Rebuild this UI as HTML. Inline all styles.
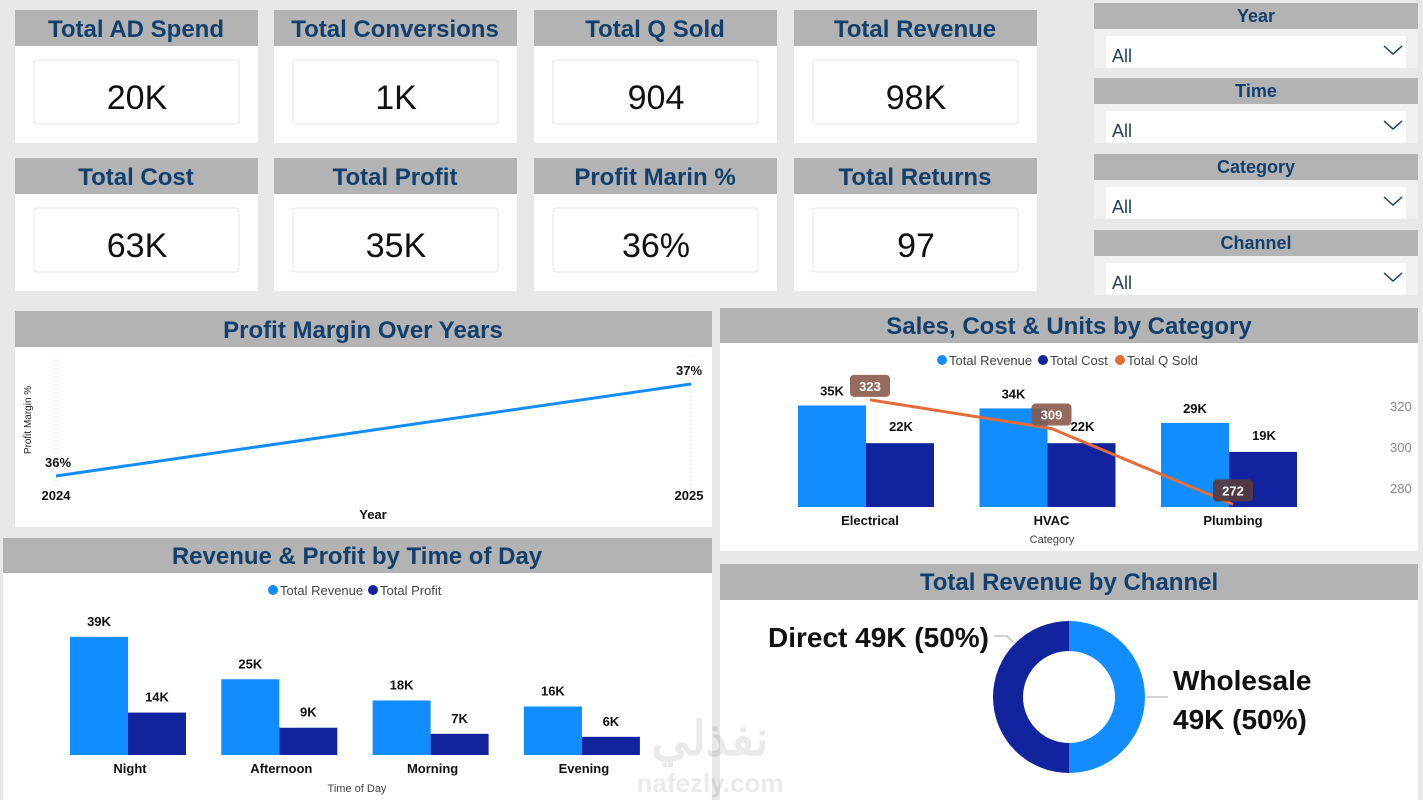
<!DOCTYPE html>
<html><head><meta charset="utf-8">
<style>
html,body{margin:0;padding:0;background:#e8e8e8;}
svg{display:block;font-family:"Liberation Sans",sans-serif;}
.hdr{fill:#b3b3b3}
.ttl{fill:#12406e;font-weight:bold;text-anchor:middle}
.lbl{font-weight:bold;fill:#111;text-anchor:middle;font-size:13px}
</style></head><body>
<svg id="dash" width="1423" height="800" viewBox="0 0 1423 800">
<rect width="1423" height="800" fill="#e8e8e8"/>
<g id="cards"></g>
<g id="slicers"></g>

<!-- Profit margin panel -->
<g>
<rect x="15" y="311" width="697" height="216" fill="#fff"/>
<rect class="hdr" x="15" y="311" width="697" height="36"/>
<text class="ttl" x="363" y="338" font-size="24">Profit Margin Over Years</text>
<g id="pm"></g>
</g>

<!-- Sales cost panel -->
<g>
<rect x="720" y="308" width="698" height="243" fill="#fff"/>
<rect class="hdr" x="720" y="308" width="698" height="35"/>
<text class="ttl" x="1069" y="334" font-size="24">Sales, Cost &amp; Units by Category</text>
<g id="sc"></g>
</g>

<!-- Time of day panel -->
<g>
<rect x="3" y="538" width="709" height="262" fill="#fff"/>
<rect class="hdr" x="3" y="538" width="709" height="35"/>
<text class="ttl" x="357" y="564" font-size="24">Revenue &amp; Profit by Time of Day</text>
<g id="td"></g>
</g>

<!-- Channel panel -->
<g>
<rect x="720" y="564" width="698" height="236" fill="#fff"/>
<rect class="hdr" x="720" y="564" width="698" height="36"/>
<text class="ttl" x="1069" y="590" font-size="24">Total Revenue by Channel</text>
<g id="ch"></g>
</g>

<g fill="#000" opacity="0.08" font-weight="bold">
<text x="710" y="755" font-size="48" text-anchor="middle" font-family="'Noto Sans CJK SC',sans-serif">نفذلي</text>
<text x="710" y="792" font-size="26" text-anchor="middle">nafezly.com</text>
</g>
</svg>
<script>
const NS="http://www.w3.org/2000/svg";
function mk(p,t,a,txt){const e=document.createElementNS(NS,t);for(const k in a)e.setAttribute(k,a[k]);if(txt!==undefined)e.textContent=txt;p.appendChild(e);return e;}

// KPI cards
const kpiTitles=["Total AD Spend","Total Conversions","Total Q Sold","Total Revenue","Total Cost","Total Profit","Profit Marin %","Total Returns"];
const kpiValues=["20K","1K","904","98K","63K","35K","36%","97"];
const cards=document.getElementById('cards');
kpiTitles.forEach((t,i)=>{
  const x=[15,274,534,794][i%4], y=i<4?10:158;
  const g=mk(cards,'g',{});
  
  
  mk(g,'rect',{x:x,y:y,width:243,height:133,fill:'#fff'});
  mk(g,'rect',{x:x,y:y,width:243,height:36,class:'hdr'});
  mk(g,'text',{x:x+121,y:y+27,class:'ttl','font-size':24},t);
  mk(g,'rect',{x:x+19,y:y+50,width:205,height:64,fill:'#fff',stroke:'#e4e4e4',rx:3});
  mk(g,'text',{x:x+122,y:y+99,'font-size':34,'text-anchor':'middle',fill:'#111'},kpiValues[i]);
});

// Slicers
const slicerNames=["Year","Time","Category","Channel"];
const sl=document.getElementById('slicers');
slicerNames.forEach((n,i)=>{
  const y=[3,78,154,230][i];
  const g=mk(sl,'g',{});
  
  
  mk(g,'rect',{x:1094,y:y,width:324,height:26,class:'hdr'});
  mk(g,'text',{x:1256,y:y+19,class:'ttl','font-size':18},n);
  mk(g,'rect',{x:1094,y:y+26,width:324,height:39,fill:'#f0f0f0'});
  mk(g,'rect',{x:1106,y:y+33,width:300,height:32,fill:'#fff'});
  mk(g,'text',{x:1112,y:y+59,'font-size':18,fill:'#1d3f66'},'All');
  mk(g,'path',{d:`M1384 ${y+43} l9 8 l9 -8`,fill:'none',stroke:'#1d3f66','stroke-width':1.5});
});

// Profit margin line
const pmYears=["2024","2025"];
const pmValues=[36,37];
const pm=document.getElementById('pm');
const pmX=i=>56+i*635, pmY=v=>476-(v-36)*92;
mk(pm,'line',{x1:56,y1:356,x2:56,y2:486,stroke:'#ddd','stroke-dasharray':'1 3'});
mk(pm,'line',{x1:691,y1:356,x2:691,y2:486,stroke:'#ddd','stroke-dasharray':'1 3'});
const pl=mk(pm,'polyline',{points:pmValues.map((v,i)=>pmX(i)+','+pmY(v)).join(' '),fill:'none',stroke:'#118dff','stroke-width':3});


pmValues.forEach((v,i)=>{
  const t=mk(pm,'text',{x:pmX(i)+(i?-2:2),y:pmY(v)-9,class:'lbl'},v+'%');
  
  
  mk(pm,'text',{x:pmX(i)+(i?-2:0),y:500,class:'lbl','font-size':12},pmYears[i]);
});
mk(pm,'text',{x:373,y:519,class:'lbl','font-size':11},'Year');
mk(pm,'text',{x:31,y:420,'font-size':10,fill:'#222','text-anchor':'middle',transform:'rotate(-90 31 420)'},'Profit Margin %');

// Sales, cost & units
const catNames=["Electrical","HVAC","Plumbing"];
const catRevenue=[35,34,29];
const catCost=[22,22,19];
const catQty=[323,309,272];
const sc=document.getElementById('sc');
const scBase=507, scY=v=>scBase-v*2.9, scX=i=>798+i*181.5;
const qY=v=>447-(v-300)*2.05;
// legend
[["Total Revenue","#118dff",936],["Total Cost","#12239e",1037],["Total Q Sold","#e66c37",1114]].forEach(l=>{
  mk(sc,'circle',{cx:l[2]+6,cy:360,r:5,fill:l[1]});
  mk(sc,'text',{x:l[2]+13,y:365,'font-size':13,fill:'#444'},l[0]);
});
[[320,406],[300,447],[280,487]].forEach(t=>mk(sc,'text',{x:1390,y:qY(t[0])+5,'font-size':13,fill:'#888'},t[0]));
catNames.forEach((c,i)=>{
  const x=scX(i);
  const r=mk(sc,'rect',{x:x,y:scY(catRevenue[i]),width:68,height:catRevenue[i]*2.9,fill:'#118dff'});
  
  
  const b=mk(sc,'rect',{x:x+68,y:scY(catCost[i]),width:68,height:catCost[i]*2.9,fill:'#12239e'});
  
  
  mk(sc,'text',{x:x+34,y:scY(catRevenue[i])-10,class:'lbl'},catRevenue[i]+'K');
  mk(sc,'text',{x:x+103,y:scY(catCost[i])-12,class:'lbl'},catCost[i]+'K');
  mk(sc,'text',{x:x+72,y:525,class:'lbl','font-size':13},c);
});
mk(sc,'text',{x:1052,y:543,'text-anchor':'middle','font-size':11,fill:'#444'},'Category');
const ql=mk(sc,'polyline',{points:catQty.map((v,i)=>(scX(i)+72)+','+qY(v)).join(' '),fill:'none',stroke:'#e66c37','stroke-width':3});


catQty.forEach((v,i)=>{
  const x=scX(i)+72, y=qY(v)-14;
  mk(sc,'rect',{x:x-20,y:y-11,width:40,height:22,rx:4,fill:i==2?'#5a3a3a':'#8b5a4a',opacity:0.9});
  mk(sc,'text',{x:x,y:y+5,class:'lbl',fill:'#fff',style:'fill:#fff'},v);
});

// Time of day
const todNames=["Night","Afternoon","Morning","Evening"];
const todRevenue=[39,25,18,16];
const todProfit=[14,9,7,6];
const td=document.getElementById('td');
const tdBase=755, tdY=v=>tdBase-v*3.03, tdX=i=>70+i*151.3;
mk(td,'circle',{cx:273,cy:590,r:5,fill:'#118dff'});
mk(td,'text',{x:280,y:595,'font-size':13,fill:'#444'},'Total Revenue');
mk(td,'circle',{cx:373,cy:590,r:5,fill:'#12239e'});
mk(td,'text',{x:380,y:595,'font-size':13,fill:'#444'},'Total Profit');
todNames.forEach((c,i)=>{
  const x=tdX(i);
  const r=mk(td,'rect',{x:x,y:tdY(todRevenue[i]),width:58,height:todRevenue[i]*3.03,fill:'#118dff'});
  
  
  const b=mk(td,'rect',{x:x+58,y:tdY(todProfit[i]),width:58,height:todProfit[i]*3.03,fill:'#12239e'});
  
  
  mk(td,'text',{x:x+29,y:tdY(todRevenue[i])-11,class:'lbl'},todRevenue[i]+'K');
  mk(td,'text',{x:x+87,y:tdY(todProfit[i])-11,class:'lbl'},todProfit[i]+'K');
  mk(td,'text',{x:x+60,y:773,class:'lbl'},c);
});
mk(td,'text',{x:357,y:792,'text-anchor':'middle','font-size':11,fill:'#444'},'Time of Day');

// Channel donut
const chNames=["Wholesale","Direct"];
const chValues=[49,49];
const chColors=["#118dff","#12239e"];
const ch=document.getElementById('ch');
const cx=1069, cy=697, R=76, r0=46;
const tot=chValues.reduce((a,b)=>a+b,0);
let a0=-Math.PI/2;
chValues.forEach((v,i)=>{
  const a1=a0+v/tot*2*Math.PI, lg=(a1-a0)>Math.PI?1:0;
  const p=(rr,a)=>(cx+rr*Math.cos(a)).toFixed(2)+' '+(cy+rr*Math.sin(a)).toFixed(2);
  const s=mk(ch,'path',{d:`M${p(R,a0)} A${R} ${R} 0 ${lg} 1 ${p(R,a1)} L${p(r0,a1)} A${r0} ${r0} 0 ${lg} 0 ${p(r0,a0)} Z`,fill:chColors[i]});
  
  
  a0=a1;
});
mk(ch,'path',{d:'M1146 697 H1168',stroke:'#aaa',fill:'none'});
mk(ch,'path',{d:'M994 636 H1007 L1014 643',stroke:'#aaa',fill:'none'});
mk(ch,'text',{x:1173,y:690,'font-size':28,'font-weight':'bold',fill:'#111'},chNames[0]);
mk(ch,'text',{x:1173,y:729,'font-size':28,'font-weight':'bold',fill:'#111'},chValues[0]+'K ('+Math.round(chValues[0]/tot*100)+'%)');
mk(ch,'text',{x:989,y:647,'font-size':28,'font-weight':'bold',fill:'#111','text-anchor':'end'},chNames[1]+' '+chValues[1]+'K ('+Math.round(chValues[1]/tot*100)+'%)');
</script>
</body></html>
